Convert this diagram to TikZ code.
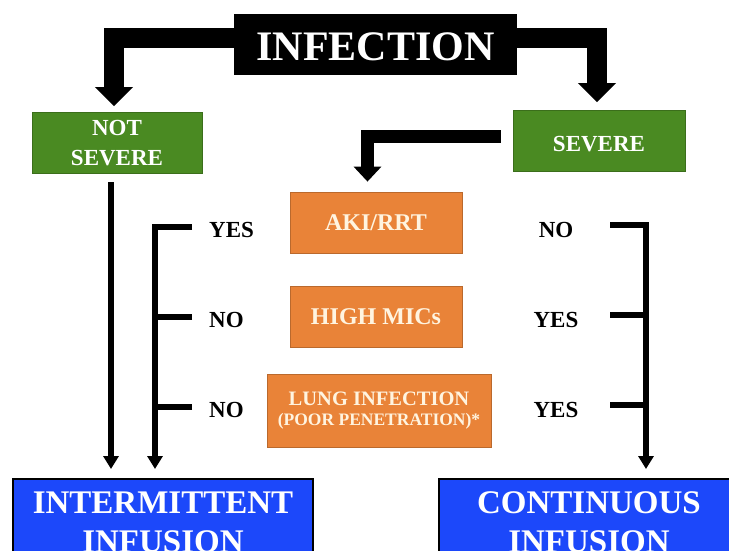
\documentclass[tikz,border=0pt]{standalone}
\usepackage{fontspec}
\setmainfont{Liberation Serif}
\usetikzlibrary{arrows.meta,calc,positioning}
\definecolor{sevgreen}{RGB}{74,138,34}
\definecolor{boxorange}{RGB}{233,131,56}
\definecolor{infblue}{RGB}{28,72,250}
\definecolor{cream}{RGB}{255,244,224}
\tikzset{
  greenbox/.style={fill=sevgreen, draw=sevgreen!80!black, line width=0.8pt, text=white,
    font=\fontsize{23}{30}\selectfont\bfseries, align=center,
    minimum width=170pt, minimum height=61pt, inner sep=0pt},
  orangebox/.style={fill=boxorange, draw=boxorange!80!black, line width=0.8pt, text=cream,
    align=center, inner sep=0pt},
  bluebox/.style={fill=infblue, draw=black, line width=2pt, text=white,
    font=\fontsize{33}{39}\selectfont\bfseries, align=center, anchor=north,
    minimum width=300pt, inner xsep=0pt, inner ysep=13pt},
  answer/.style={inner sep=0pt, font=\fontsize{23}{23}\selectfont\bfseries},
  bigpipe/.style={line width=20pt, -{Triangle[width=37pt,length=19pt]}},
  midpipe/.style={line width=12.5pt, -{Triangle[width=27pt,length=15pt]}},
  pipe/.style={line width=6pt},
}

\begin{document}
\begin{tikzpicture}[x=1pt, y=-1pt]
\useasboundingbox (0,0) rectangle (729,551);
\clip (0,0) rectangle (729,551);

% top
\node[fill=black, text=white, minimum width=283pt, minimum height=61pt, inner sep=0pt,
  text height=32pt, font=\fontsize{42}{42}\selectfont\bfseries] (infection) at (375.5,44.5) {INFECTION};
\node[greenbox] (notsev) at (117,143) {NOT\\SEVERE};
\node[greenbox, minimum width=172pt, text height=21pt] (severe) at (599,141) {SEVERE};

% criteria
\node[orangebox, minimum width=172pt, minimum height=61pt,
  font=\fontsize{24}{24}\selectfont\bfseries] (aki) at (376,222.5) {AKI/RRT};
\node[orangebox, minimum width=172pt, minimum height=61pt,
  font=\fontsize{24}{24}\selectfont\bfseries] (mics) at (376,317) {HIGH MICs};
\node[orangebox, minimum width=224pt, minimum height=73pt,
  font=\fontsize{20.5}{20}\selectfont\bfseries] (lung) at (379,410.5)
  {LUNG INFECTION\\{\fontsize{17.5}{20}\selectfont (POOR PENETRATION)*}};

\node[answer, anchor=west] (l1) at (209,229.5) {YES};
\node[answer, anchor=west] (l2) at (209,319.5) {NO};
\node[answer, anchor=west] (l3) at (209,410) {NO};
\node[answer] (r1) at (556,229.5) {NO};
\node[answer] (r2) at (556,319.5) {YES};
\node[answer] (r3) at (556,410) {YES};

% outcomes
\node[bluebox] (interm) at (163,478) {INTERMITTENT\\INFUSION};
\node[bluebox] (contin) at (589,478) {CONTINUOUS\\INFUSION};

% arrows
\draw[bigpipe, shorten >=6pt] ([yshift=6pt]infection.west) -| ([xshift=-3pt]notsev.north);
\draw[bigpipe, shorten >=8pt] ([yshift=6pt]infection.east) -| ([xshift=-2pt]severe.north);
\draw[midpipe, shorten <=12pt, shorten >=10pt] ([yshift=4.5pt]severe.west) -| ([xshift=-8.5pt]aki.north);

\coordinate (nsdrop) at (111,182);
\coordinate (lspine) at (155,0);
\coordinate (rspine) at (646,0);

\draw[pipe, ->, >={Triangle[width=15pt,length=13pt]}, shorten >=9pt] (nsdrop) -- (nsdrop |- interm.north);
\draw[pipe, ->, >={Triangle[width=15pt,length=13pt]}, shorten >=9pt] ($(l1.west)+(-17,-3)$) -| (lspine |- interm.north);
\foreach \n in {l2,l3} {
 \draw[pipe] ($(\n.west)+(-17,-3)$) -- ($(\n.west -| lspine)+(0,-3)$);
}
\draw[pipe, ->, >={Triangle[width=15pt,length=13pt]}, shorten >=9pt] ($(r1.center)+(54,-5)$) -| (rspine |- contin.north);
\foreach \n in {r2,r3} {
 \draw[pipe] ($(\n.center)+(54,-5)$) -- ($(\n.center -| rspine)+(0,-5)$);
}
\end{tikzpicture}
\end{document}
